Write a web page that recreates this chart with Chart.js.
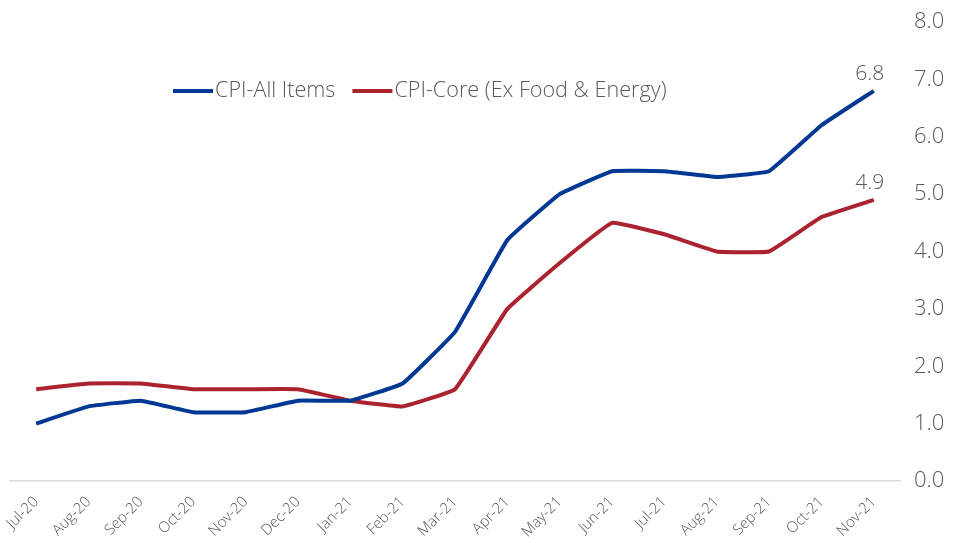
<!DOCTYPE html>
<html>
<head>
<meta charset="utf-8">
<script src="https://cdn.jsdelivr.net/npm/chart.js@4.4.0/dist/chart.umd.min.js"></script>
<style>
  html, body { margin: 0; padding: 0; background: #fff; }
  #wrap { width: 954px; height: 543px; }
</style>
</head>
<body>
<div id="wrap"><canvas id="chart" width="954" height="543"></canvas></div>
<script>
// data
const months = ["Jul-20","Aug-20","Sep-20","Oct-20","Nov-20","Dec-20","Jan-21","Feb-21","Mar-21",
                "Apr-21","May-21","Jun-21","Jul-21","Aug-21","Sep-21","Oct-21","Nov-21"]
const cpiAll  = [1.0, 1.3, 1.4, 1.2, 1.2, 1.4, 1.4, 1.7, 2.6, 4.2, 5.0, 5.4, 5.4, 5.3, 5.4, 6.2, 6.8]
const cpiCore = [1.6, 1.7, 1.7, 1.6, 1.6, 1.6, 1.4, 1.3, 1.6, 3.0, 3.8, 4.5, 4.3, 4.0, 4.0, 4.6, 4.9]
const yTicks  = [0, 1, 2, 3, 4, 5, 6, 7, 8]

const FONT = "'Open Sans', 'Noto Sans', sans-serif"
const GREY = "#595959"

// legend drawn inside the plot area, plus the end-point value labels
const overlay = {
    id: "overlay",
    afterDatasetsDraw(chart){
        const ctx = chart.ctx
        ctx.save()
        // legend
        let x = 173
        const y = 91
        ctx.font = "300 21.6px " + FONT
        ctx.textBaseline = "middle"
        chart.data.datasets.forEach(ds => {
            ctx.strokeStyle = ds.borderColor
            ctx.lineWidth = 4
            ctx.beginPath()
            ctx.moveTo(x, y)
            ctx.lineTo(x + 40, y)
            ctx.stroke()
            ctx.fillStyle = GREY
            ctx.textAlign = "left"
            ctx.fillText(ds.label, x + 42, y)
            x += 42 + ctx.measureText(ds.label).width + 17
        })
        // last values
        ctx.font = "300 21px " + FONT
        ctx.textAlign = "center"
        ctx.textBaseline = "bottom"
        chart.data.datasets.forEach((ds, i) => {
            const meta = chart.getDatasetMeta(i)
            const pt = meta.data[meta.data.length - 1]
            const v = ds.data[ds.data.length - 1]
            ctx.fillText(v.toFixed(1), pt.x - 4, pt.y - 6)
        })
        ctx.restore()
    }
}

new Chart(document.getElementById("chart"), {
    type: "line",
    data: {
        labels: months,
        datasets: [
            { label: "CPI-All Items", data: cpiAll, borderColor: "#003893", borderWidth: 4,
              pointRadius: 0, tension: 0.08, fill: false },
            { label: "CPI-Core (Ex Food & Energy)", data: cpiCore, borderColor: "#ab2330", borderWidth: 4,
              pointRadius: 0, tension: 0.08, fill: false },
        ]
    },
    options: {
        responsive: false,
        animation: false,
        layout: { padding: { top: 22, left: 10, right: 2, bottom: 0 } },
        plugins: {
            legend: { display: false },
            tooltip: { enabled: false },
        },
        scales: {
            x: {
                offset: true,
                grid: { display: false },
                border: { display: true, color: "#d9d9d9", width: 1.5 },
                ticks: {
                    color: GREY,
                    font: { family: FONT, size: 15, weight: 300 },
                    maxRotation: 45, minRotation: 45,
                    autoSkip: false,
                    padding: 4,
                },
                afterFit(scale){ scale.height = 62 },
            },
            y: {
                position: "right",
                min: 0, max: 8,
                afterBuildTicks(scale){ scale.ticks = yTicks.map(v => ({ value: v })) },
                grid: { display: false },
                border: { display: false },
                ticks: {
                    color: GREY,
                    font: { family: FONT, size: 22, weight: 300 },
                    padding: 6,
                    callback: v => v.toFixed(1),
                },
                afterFit(scale){ scale.width = 52 },
            }
        }
    },
    plugins: [overlay]
})
</script>
</body>
</html>
